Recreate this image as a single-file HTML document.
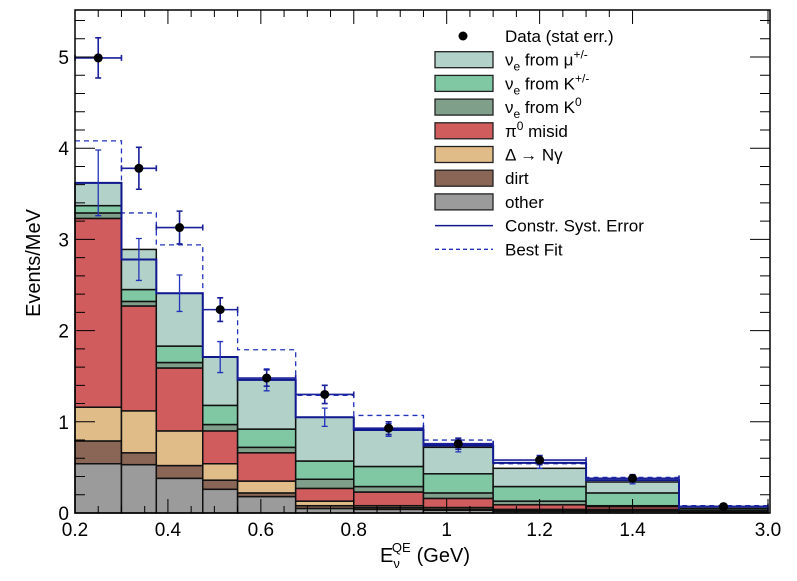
<!DOCTYPE html>
<html><head><meta charset="utf-8"><style>
body{margin:0;background:#fff;}
svg{display:block;font-family:"Liberation Sans",sans-serif;}
</style></head><body>
<svg id="chart" width="797" height="581" viewBox="0 0 797 581" xmlns="http://www.w3.org/2000/svg">
<g id="bars"></g>
<g id="lines"></g>
<g id="points"></g>
<g id="axes"></g>
<g id="legend"></g>
<text x="0" y="0" transform="translate(40,263) rotate(-90)" text-anchor="middle" font-size="20">Events/MeV</text>
<text x="380" y="562" font-size="20">E<tspan font-size="13" dy="6">ν</tspan><tspan font-size="13" dy="-16" dx="-8">QE</tspan><tspan dy="10" dx="6">(GeV)</tspan></text>
</svg>
<script>
const edges=[0.2,0.3,0.375,0.475,0.55,0.675,0.8,0.95,1.1,1.3,1.5,3.0];
const other=[0.54,0.53,0.38,0.26,0.18,0.05,0.04,0.03,0.02,0.02,0.01];
const dirt=[0.25,0.13,0.14,0.10,0.04,0.03,0.02,0.01,0.01,0.01,0.0];
const delta=[0.37,0.46,0.38,0.18,0.13,0.05,0.02,0.02,0.01,0.01,0.0];
const pi0=[2.07,1.15,0.69,0.36,0.31,0.14,0.15,0.10,0.05,0.03,0.01];
const k0=[0.06,0.05,0.06,0.07,0.06,0.10,0.06,0.06,0.04,0.01,0.01];
const kpm=[0.08,0.13,0.18,0.21,0.20,0.20,0.22,0.21,0.16,0.14,0.02];
const mupm=[0.25,0.44,0.58,0.53,0.54,0.48,0.41,0.29,0.20,0.12,0.02];
const constr=[3.62,2.78,2.41,1.71,1.46,1.05,0.91,0.74,0.55,0.36,0.07];
const syst=[0.36,0.23,0.2,0.17,0.12,0.1,0.07,0.07,0.06,0.04,0.01];
const bestFit=[4.08,3.29,2.94,2.23,1.79,1.29,1.07,0.80,0.54,0.39,0.08];
const dataVals=[4.99,3.78,3.13,2.23,1.48,1.30,0.93,0.76,0.58,0.38,0.07];
const dataErr=[0.22,0.23,0.18,0.13,0.09,0.1,0.07,0.06,0.05,0.04,0.03];
const xTicks=[0.2,0.4,0.6,0.8,1.0,1.2,1.4,3.0];
const xTickLabels=["0.2","0.4","0.6","0.8","1","1.2","1.4","3.0"];
const yTicks=[0,1,2,3,4,5];
const NS="http://www.w3.org/2000/svg";
const X0=75,X1=770,Y0=513,Y1=10;
function xs(v){return v<=1.5?75+(v-0.2)*(679-75)/1.3:679+(v-1.5)*(768-679)/1.5;}
function ys(v){return 513-v*91.2;}
function mk(p,t,a){const e=document.createElementNS(NS,t);for(const k in a)e.setAttribute(k,a[k]);p.appendChild(e);return e;}
const layers=[[other,'#9b9b9b','other'],[dirt,'#8a6656','dirt'],[delta,'#e0bc88','delta'],[pi0,'#d05c5e','pi0'],[k0,'#7f9f8a','k0'],[kpm,'#80c8a4','kpm'],[mupm,'#b2d1c8','mupm']];
const bars=document.getElementById('bars');
const cum=edges.slice(0,-1).map(()=>0);
layers.forEach(([arr,col,nm])=>{
  for(let i=0;i<arr.length;i++){
    const lo=cum[i],hi=cum[i]+arr[i];cum[i]=hi;
    const r=mk(bars,'rect',{x:xs(edges[i]),y:ys(hi),width:xs(edges[i+1])-xs(edges[i]),height:Math.max(0,ys(lo)-ys(hi)),fill:col,stroke:'#111','stroke-width':1.5});
    
    
  }
});
const lines=document.getElementById('lines');
function stepPath(arr){let d='';for(let i=0;i<arr.length;i++){d+=(i?'L':'M')+xs(edges[i])+','+ys(arr[i])+'L'+xs(edges[i+1])+','+ys(arr[i]);}return d;}
const bf=mk(lines,'path',{d:stepPath(bestFit),fill:'none',stroke:'#2233bb','stroke-width':1.3,'stroke-dasharray':'5,4'});


const cl=mk(lines,'path',{d:stepPath(constr),fill:'none',stroke:'#101890','stroke-width':2});


for(let i=0;i<constr.length;i++){
  const c=(xs(edges[i])+xs(edges[i+1]))/2;
  const g=mk(lines,'path',{d:`M${c},${ys(constr[i]+syst[i])}L${c},${ys(constr[i]-syst[i])}M${c-3},${ys(constr[i]+syst[i])}L${c+3},${ys(constr[i]+syst[i])}M${c-3},${ys(constr[i]-syst[i])}L${c+3},${ys(constr[i]-syst[i])}`,stroke:'#2233bb','stroke-width':1.3,fill:'none'});
  
  
}
const pts=document.getElementById('points');
for(let i=0;i<dataVals.length;i++){
  const a=xs(edges[i]),b=xs(edges[i+1]),c=(a+b)/2,y=ys(dataVals[i]),t=ys(dataVals[i]+dataErr[i]),u=ys(dataVals[i]-dataErr[i]);
  const e=mk(pts,'path',{d:`M${a},${y}L${b},${y}M${c},${t}L${c},${u}M${c-3},${t}L${c+3},${t}M${c-3},${u}L${c+3},${u}M${a},${y-3}L${a},${y+3}M${b},${y-3}L${b},${y+3}`,stroke:'#1a1f9a','stroke-width':1.6,fill:'none'});
  
  
  const p=mk(pts,'circle',{cx:c,cy:y,r:4.5,fill:'#000'});
  
  
}
const ax=document.getElementById('axes');
const fr=mk(ax,'rect',{x:X0,y:Y1,width:X1-X0,height:Y0-Y1,fill:'none',stroke:'#000','stroke-width':1.5});


yTicks.forEach(v=>{
  const y=ys(v);
  const tk=mk(ax,'path',{d:`M${X0},${y}L${X0+20},${y}M${X1},${y}L${X1-20},${y}`,stroke:'#000','stroke-width':1});
  
  
  const t=mk(ax,'text',{x:X0-6,y:y+7,'text-anchor':'end','font-size':19});t.textContent=v;
  
  
  for(let m=1;m<5;m++){const ym=ys(v+m*0.2);if(ym<Y1)break;
    const mt=mk(ax,'path',{d:`M${X0},${ym}L${X0+10},${ym}M${X1},${ym}L${X1-10},${ym}`,stroke:'#000','stroke-width':1});
    
    }
});
xTicks.forEach((v,i)=>{
  const x=xs(v);
  const tk=mk(ax,'path',{d:`M${x},${Y0}L${x},${Y0-14}M${x},${Y1}L${x},${Y1+14}`,stroke:'#000','stroke-width':1});
  
  
  const t=mk(ax,'text',{x:x,y:Y0+23,'text-anchor':'middle','font-size':19});t.textContent=xTickLabels[i];
  
  
  if(v<1.4){for(let m=1;m<4;m++){const xm=xs(v+m*0.05);
    const mt=mk(ax,'path',{d:`M${xm},${Y0}L${xm},${Y0-7}M${xm},${Y1}L${xm},${Y1+7}`,stroke:'#000','stroke-width':1});
    
    }}
});
const lg=document.getElementById('legend');
const entries=[['dot','Data (stat err.)'],['#b2d1c8','ν<tspan font-size="12" dy="5">e</tspan><tspan dy="-5"> from μ</tspan><tspan font-size="12" dy="-7">+/-</tspan>'],['#80c8a4','ν<tspan font-size="12" dy="5">e</tspan><tspan dy="-5"> from K</tspan><tspan font-size="12" dy="-7">+/-</tspan>'],['#7f9f8a','ν<tspan font-size="12" dy="5">e</tspan><tspan dy="-5"> from K</tspan><tspan font-size="12" dy="-7">0</tspan>'],['#d05c5e','π<tspan font-size="12" dy="-7">0</tspan><tspan dy="7"> misid</tspan>'],['#e0bc88','Δ → Nγ'],['#8a6656','dirt'],['#9b9b9b','other'],['solid','Constr. Syst. Error'],['dash','Best Fit']];
entries.forEach(([k,txt],i)=>{
  const y=36+i*23.7;
  if(k==='dot'){const c=mk(lg,'circle',{cx:463,cy:y,r:4.5,fill:'#000'});}
  else if(k==='solid'){const l=mk(lg,'line',{x1:435,x2:493,y1:y,y2:y,stroke:'#101890','stroke-width':1.5});}
  else if(k==='dash'){const l=mk(lg,'line',{x1:435,x2:493,y1:y,y2:y,stroke:'#2233bb','stroke-width':1.3,'stroke-dasharray':'4,3'});}
  else{const r=mk(lg,'rect',{x:435,y:y-8,width:58,height:16,fill:k,stroke:'#222','stroke-width':1.3});}
  const t=mk(lg,'text',{x:505,y:y+6,'font-size':17});t.innerHTML=txt;
  
  
});
</script>
</body></html>
